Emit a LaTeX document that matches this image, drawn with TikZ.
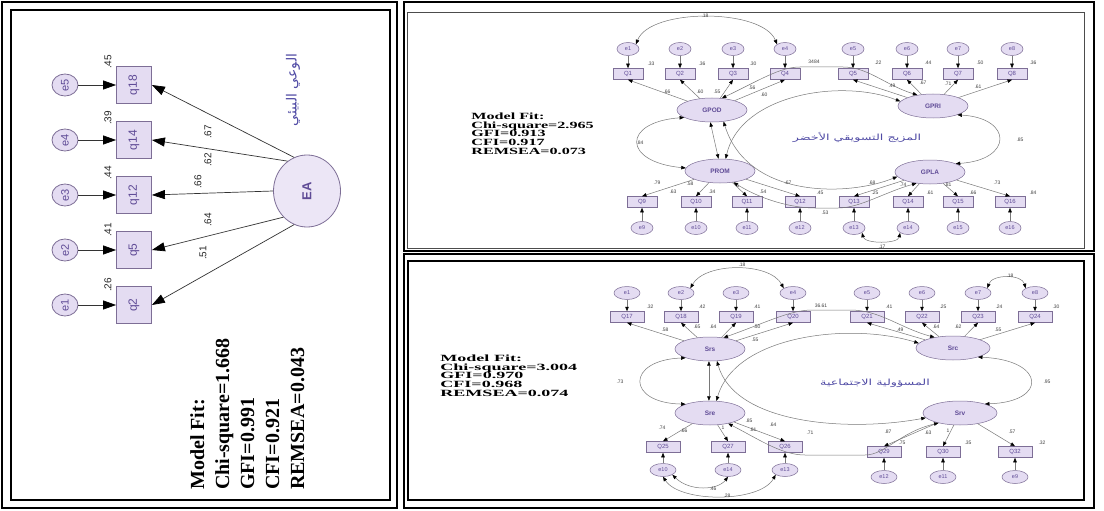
\documentclass[tikz,border=0pt]{standalone}
\usepackage{fontspec}
\setmainfont{Liberation Serif}
\setsansfont{Liberation Sans}
\newfontfamily\arabicfont[Script=Arabic]{DejaVu Sans}
\TeXXeTstate=1
\usetikzlibrary{shapes.geometric,arrows.meta}
\definecolor{lav}{RGB}{228,220,242}
\definecolor{bdr}{RGB}{125,110,150}
\definecolor{ntx}{RGB}{95,75,150}
\definecolor{lin}{RGB}{120,120,120}
\definecolor{arb}{RGB}{80,75,165}
\begin{document}
\begin{tikzpicture}[x=1pt,y=-1pt,
  lat/.style={ellipse, draw=bdr, fill=lav, line width=0.5pt, minimum width=70pt, minimum height=24pt, inner sep=0pt, text=ntx, font=\sffamily\bfseries\fontsize{6.5}{6.5}\selectfont},
  obs/.style={rectangle, draw=bdr, fill=lav, line width=0.5pt, minimum width=30pt, minimum height=11pt, inner sep=0pt, text=ntx, font=\sffamily\fontsize{6}{6}\selectfont},
  err/.style={ellipse, draw=bdr, fill=lav, line width=0.5pt, minimum width=22pt, minimum height=13pt, inner sep=0pt, text=ntx, font=\sffamily\fontsize{5.5}{5.5}\selectfont},
  obs2/.style={obs, minimum width=34pt},
  err2/.style={err, minimum width=26pt},
  lat2/.style={lat, minimum width=74pt},
  lbl/.style={inner sep=0pt, text=black!75, font=\sffamily\fontsize{5}{5}\selectfont},
  ar/.style={draw=lin, line width=0.5pt, -{Triangle[length=4.5pt,width=3.5pt,color=black]}},
  dar/.style={draw=lin, line width=0.5pt, {Triangle[length=4.5pt,width=3.5pt,color=black]}-{Triangle[length=4.5pt,width=3.5pt,color=black]}},
  bobs/.style={rectangle, draw=bdr, fill=lav, line width=0.8pt, minimum width=35pt, minimum height=37pt, inner sep=0pt, text=ntx, font=\sffamily\fontsize{12}{12}\selectfont},
  berr/.style={ellipse, draw=bdr, fill=lav, line width=0.8pt, minimum width=26pt, minimum height=22pt, inner sep=0pt, text=ntx, font=\sffamily\fontsize{11}{11}\selectfont},
  blbl/.style={inner sep=0pt, rotate=90, text=black!85, font=\sffamily\fontsize{10}{10}\selectfont},
  bigar/.style={draw=black!80, line width=0.7pt, -{Triangle[length=13pt,width=9pt,color=black]}},
  fit/.style={inner sep=0pt, align=left, anchor=north west, text=black, font=\bfseries\fontsize{9.5}{8.6}\selectfont}
]
\useasboundingbox (0,0) rectangle (1104,511);
\fill[white] (0,0) rectangle (1104,511);
% ---------- frames ----------
\draw[line width=2.5pt] (2,2) rectangle (397,508);
\draw[line width=1.2pt] (11,10) rectangle (390,500);
\draw[line width=2.5pt] (404,2) rectangle (1094,251);
\draw[line width=0.8pt, draw=black!70] (407,12) rectangle (1084,248);
\draw[line width=2.5pt] (404,254) rectangle (1094,508);
\draw[line width=1.6pt] (408,261) rectangle (1084,500);

% ---------- left panel (rotated) ----------
\foreach \e/\q/\y in {5/18/85, 4/14/140, 3/12/195, 2/5/250, 1/2/305} {
  \node[berr] (le\e) at (65,\y) {\rotatebox{90}{e\e}};
  \node[bobs] (q\q) at (134,\y) {\rotatebox{90}{q\q}};
  \draw[bigar] (le\e) -- (q\q);
}
\node[ellipse, draw=bdr, fill=lav!70, line width=0.8pt, minimum width=67pt, minimum height=72pt, inner sep=0pt, text=ntx, font=\sffamily\bfseries\fontsize{13}{13}\selectfont] (EA) at (307,191) {\rotatebox{90}{EA}};
\foreach \q/\a in {18/111, 14/123, 12/180, 5/228, 2/249}
  \draw[bigar] (EA.\a) -- (q\q.east);
\foreach \t/\x/\y [count=\i] in {.45/108/62, .39/108/118, .44/108/173, .41/108/230, .26/108/285, .67/208/132, .62/208/160, .66/198/182, .64/208/220, .51/203/253}
  \node[blbl] (ll\i) at (\x,\y) {\t};
\node[rotate=90, inner sep=0pt, text=arb, font=\arabicfont\fontsize{14}{14}\selectfont] (latitle) at (293,90) {\beginR الوعي البيئي\endR};
\node[fit, rotate=90, font=\bfseries\fontsize{20}{25}\selectfont] (lfit) at (190,490) {Model Fit:\\Chi-square=1.668\\GFI=0.991\\CFI=0.921\\REMSEA=0.043};

% ---------- top right panel ----------
\node[fit, xscale=1.7] (tfit) at (471,113) {Model Fit:\\Chi-square=2.965\\GFI=0.913\\CFI=0.917\\REMSEA=0.073};
\foreach \n/\x in {1/628,2/680,3/733,4/785,5/853,6/907,7/958,8/1012} {
  \node[err] (te\n) at (\x,49) {e\n};
  \node[obs] (tQ\n) at (\x,74) {Q\n};
  \draw[ar] (te\n) -- (tQ\n);
}
\foreach \n/\x in {9/642,10/696,11/747,12/800,13/854,14/908,15/958,16/1010} {
  \node[err] (te\n) at (\x,228) {e\n};
  \node[obs] (tQ\n) at (\x,202) {Q\n};
  \draw[ar] (te\n) -- (tQ\n);
}
\node[lat] (GPOD) at (712,110) {GPOD};
\node[lat] (GPRI) at (933,106) {GPRI};
\node[lat] (PROM) at (720,171) {PROM};
\node[lat] (GPLA) at (930,172) {GPLA};
\foreach \n in {1,...,4} \draw[ar] (GPOD) -- (tQ\n.south);
\foreach \n in {5,...,8} \draw[ar] (GPRI) -- (tQ\n.south);
\foreach \n in {9,...,12} \draw[ar] (PROM) -- (tQ\n.north);
\foreach \n in {13,...,16} \draw[ar] (GPLA) -- (tQ\n.north);
% covariances
\draw[dar] (te1.north east) .. controls (650,8) and (762,8) .. (te4.north west);
\draw[dar] (te13.south east) .. controls (865,244) and (898,244) .. (te14.south west);
\draw[dar] (GPOD.195) .. controls (622,122) and (622,162) .. (PROM.175);
\draw[dar] (GPRI.-20) .. controls (1013,118) and (1013,160) .. (GPLA.18);
\draw[dar] (GPOD.262) -- (PROM.97);
\draw[dar] (PROM.65) .. controls (740,95) and (840,78) .. (GPRI.172);
\draw[dar] (GPOD.-45) .. controls (748,200) and (850,196) .. (GPLA.188);
\draw[dar] (GPOD.50) .. controls (760,80) and (780,67) .. (800,67) -- (843,67) .. controls (868,67) and (885,85) .. (GPRI.145);
\draw[dar] (PROM.-40) .. controls (762,200) and (792,208) .. (815,208) -- (838,208) .. controls (860,208) and (885,192) .. (GPLA.-140);
\node[inner sep=0pt, text=arb, font=\arabicfont\fontsize{8.5}{8.5}\selectfont, xscale=1.5] (tarab) at (857,137) {\beginR المزيج التسويقي الأخضر\endR};
\foreach \t/\x/\y [count=\i] in {.18/705/16, .33/651/64, .36/702/64, .30/753/64, 3484/814/62, .22/878/63, .44/928/63, .50/980/63, .36/1033/63, .66/667/92, .60/700/92, .55/717/92, .56/752/88, .60/764/95, .49/892/86, .67/923/83, .71/948/84, .61/978/87, .84/640/143, .85/1020/140, .79/657/183, .63/673/192, .58/690/184, .34/712/192, 1/738/186, .54/763/192, .67/788/183, .45/820/193, .53/825/213, .68/872/183, .25/875/193, .74/903/185, .61/930/193, .81/948/185, .66/973/193, .73/997/183, .84/1033/193, .17/882/247}
  \node[lbl] (tl\i) at (\x,\y) {\t};

% ---------- bottom right panel ----------
\node[fit, xscale=1.9] (bfit) at (440,355) {Model Fit:\\Chi-square=3.004\\GFI=0.970\\CFI=0.968\\REMSEA=0.074};
\foreach \e/\q/\x in {1/17/627, 2/18/681, 3/19/736, 4/20/793, 5/21/867, 6/22/922, 7/23/978, 8/24/1035} {
  \node[err2] (be\e) at (\x,293) {e\e};
  \node[obs2] (bQ\q) at (\x,317) {Q\q};
  \draw[ar] (be\e) -- (bQ\q);
}
\foreach \e/\q/\x in {10/25/663, 14/27/728, 13/26/785} {
  \node[err2] (be\e) at (\x,470) {e\e};
  \node[obs2] (bQ\q) at (\x,447) {Q\q};
  \draw[ar] (be\e) -- (bQ\q);
}
\foreach \e/\q/\x in {12/29/884, 11/30/943, 9/32/1015} {
  \node[err2] (be\e) at (\x,477) {e\e};
  \node[obs2] (bQ\q) at (\x,452) {Q\q};
  \draw[ar] (be\e) -- (bQ\q);
}
\node[lat] (Srs) at (710,349) {Srs};
\node[lat2] (Src) at (953,348) {Src};
\node[lat] (Sre) at (710,413) {Sre};
\node[lat2] (Srv) at (960,413) {Srv};
\foreach \n in {17,...,20} \draw[ar] (Srs) -- (bQ\n.south);
\foreach \n in {21,...,24} \draw[ar] (Src) -- (bQ\n.south);
\foreach \n in {25,27,26} \draw[ar] (Sre) -- (bQ\n.north);
\foreach \n in {29,30,32} \draw[ar] (Srv) -- (bQ\n.north);
\draw[dar] (be2.north east) .. controls (705,262) and (770,262) .. (be4.north west);
\draw[dar] (be7.north east) .. controls (992,274) and (1022,274) .. (be8.north west);
\draw[dar] (be10.south east) .. controls (690,492) and (718,490) .. (be14.south);
\draw[dar] (be10.south) .. controls (680,503) and (760,503) .. (be13.south west);
\draw[dar] (Srs.200) .. controls (626,360) and (626,403) .. (Sre.160);
\draw[dar] (Src.-20) .. controls (1046,360) and (1048,402) .. (Srv.20);
\draw[dar] (Srs.265) -- (Sre.95);
\draw[dar] (Sre.62) .. controls (735,335) and (850,322) .. (Src.172);
\draw[dar] (Srs.-60) .. controls (735,425) and (850,432) .. (Srv.188);
\draw[dar] (Srs.40) .. controls (765,323) and (790,310) .. (812,310) -- (850,310) .. controls (880,310) and (900,328) .. (Src.150);
\draw[dar] (Sre.-30) .. controls (760,440) and (782,455) .. (805,455) -- (865,455) .. controls (885,455) and (900,432) .. (Srv.-155);
\node[inner sep=0pt, text=arb, font=\arabicfont\fontsize{8.5}{8.5}\selectfont, xscale=1.5] (barab) at (875,383) {\beginR المسؤولية الاجتماعية\endR};
\foreach \t/\x/\y [count=\i] in {.18/742/265, .18/1010/276, .32/650/307, .42/702/307, .41/757/307, 36.61/821/306, .41/889/307, .25/943/307, .24/999/307, .30/1056/307, .58/665/330, .65/697/327, .64/713/327, .50/757/327, .55/755/340, .49/900/330, .64/936/327, .62/958/327, .55/998/330, .73/620/382, .95/1047/382, .74/662/428, .66/684/431, 1/723/428, .85/749/421, .81/753/430, .64/773/425, .71/810/433, .87/888/432, .75/902/443, .63/928/433, 1/948/431, .35/968/443, .57/1012/432, .32/1042/443, .46/713/489, .28/727/496}
  \node[lbl] (bl\i) at (\x,\y) {\t};
\end{tikzpicture}
\end{document}
